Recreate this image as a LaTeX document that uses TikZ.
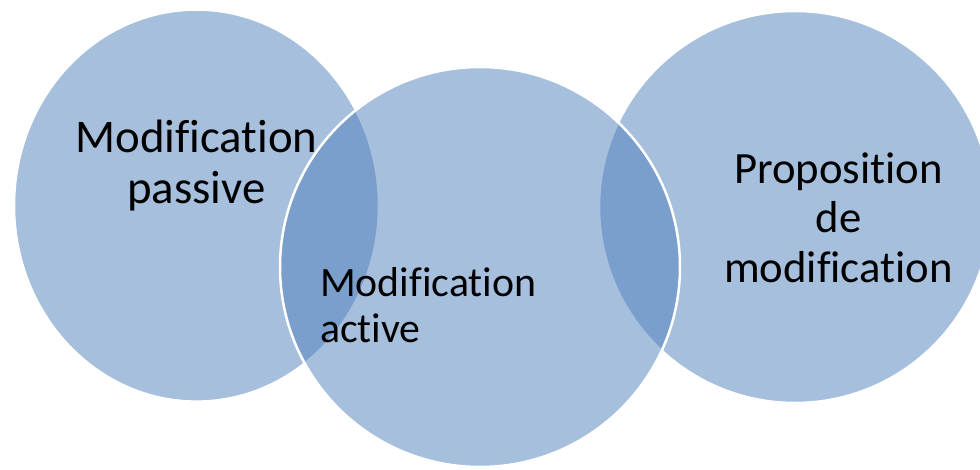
\documentclass[tikz,border=0pt]{standalone}
\usepackage{fontspec}
\setmainfont{Carlito}[Ligatures=NoCommon]
\definecolor{vennblue}{RGB}{79,129,189}
\tikzset{
  venn/.style={fill=vennblue, fill opacity=0.5, draw=white, draw opacity=1, line width=2.5pt},
  lbl/.style={inner sep=0pt, text=black, text opacity=1}
}
\begin{document}
\begin{tikzpicture}[x=1pt,y=-1pt]
\useasboundingbox (0,0) rectangle (980,470);
\fill[white] (0,0) rectangle (980,470);
\draw[venn] (196.5,205.6) ellipse [x radius=182.5, y radius=196];
\draw[venn] (795,207) circle [radius=196];
\draw[venn] (480,267) circle [radius=200];
\node[lbl, anchor=base, align=center, font=\fontsize{46.8}{51}\selectfont] (passive) at (196.5,204) {Modification\\passive};
\node[lbl, anchor=base west, align=left, font=\fontsize{41.8}{46}\selectfont] (active) at (320,342) {Modification\\active};
\node[lbl, anchor=base, align=center, font=\fontsize{44.7}{49.7}\selectfont] (proposition) at (838.5,282.7) {Proposition\\de\\modification};
\end{tikzpicture}
\end{document}
